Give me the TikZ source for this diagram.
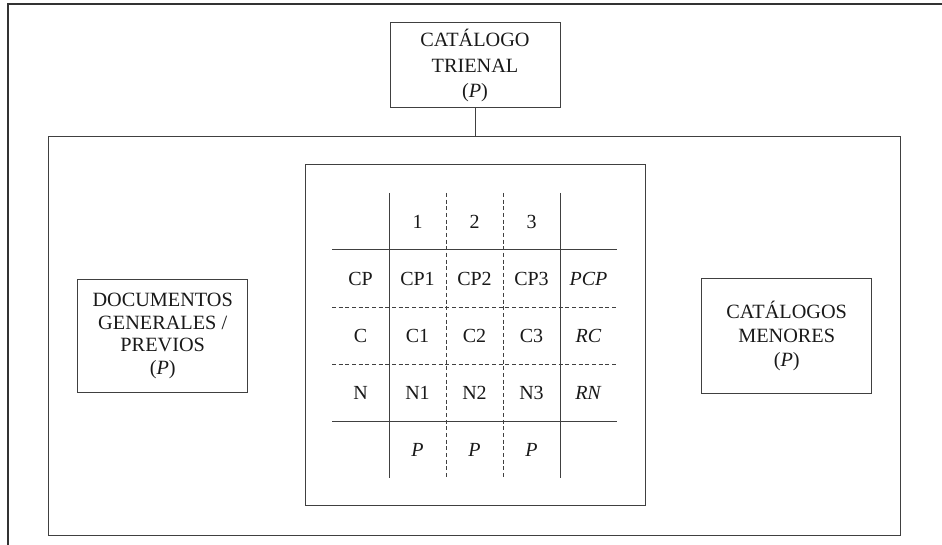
\documentclass[tikz,border=0pt]{standalone}
\usepackage{fontspec}
\setmainfont{Liberation Serif}
\begin{document}
\begin{tikzpicture}[x=0.75pt,y=-0.75pt,
  frame/.style={draw=black!80,line width=1.1pt},
  box/.style={draw=black!75,line width=0.75pt},
  tbox/.style={draw=black!75,line width=0.75pt,align=center,inner sep=0pt,text=black!90},
  cell/.style={font=\fontsize{15}{18}\selectfont,text=black!90,inner sep=0pt},
  solidl/.style={draw=black!75,line width=0.75pt},
  dashl/.style={draw=black!75,line width=0.7pt,dash pattern=on 3pt off 2pt}]
\useasboundingbox (0,0) rectangle (942,545);
% outer frame (top and left only)
\coordinate (ftl) at (8,4);
\coordinate (ftr) at (942,4);
\coordinate (fbl) at (8,545);
\draw[frame] (fbl) -- (ftl) -- (ftr);
% large box
\node[box,minimum width=852*0.75pt,minimum height=398*0.75pt,inner sep=0pt] (big) at (474,336) {};
% top box
\node[tbox,font=\fontsize{15.2}{19}\selectfont,minimum width=170*0.75pt,minimum height=85*0.75pt] (top) at (475,65.5)
  {CATÁLOGO\\TRIENAL\\(\textit{P})};
\draw[solidl] (top.south) -- (top.south |- big.north);
% left box
\node[tbox,font=\fontsize{15.2}{17}\selectfont,minimum width=170*0.75pt,minimum height=113*0.75pt] (left) at (162.7,336)
  {DOCUMENTOS\\GENERALES /\\PREVIOS\\(\textit{P})};
% right box
\node[tbox,font=\fontsize{15.2}{18}\selectfont,minimum width=170*0.75pt,minimum height=114*0.75pt] (right) at (786.7,336)
  {CATÁLOGOS\\MENORES\\(\textit{P})};
% middle box
\node[box,minimum width=340*0.75pt,minimum height=340*0.75pt,inner sep=0pt] (mid) at (475,335) {};
% table cells
\node[cell] (h1) at (417.5,221.5) {1};
\node[cell] (h2) at (474.5,221.5) {2};
\node[cell] (h3) at (531.5,221.5) {3};
\node[cell] (rcp) at (360.5,278.5) {CP};
\node[cell] (cp1) at (417.5,278.5) {CP1};
\node[cell] (cp2) at (474.5,278.5) {CP2};
\node[cell] (cp3) at (531.5,278.5) {CP3};
\node[cell] (pcp) at (588.5,278.5) {\textit{PCP}};
\node[cell] (rc) at (360.5,335.5) {C};
\node[cell] (c1) at (417.5,335.5) {C1};
\node[cell] (c2) at (474.5,335.5) {C2};
\node[cell] (c3) at (531.5,335.5) {C3};
\node[cell] (rcc) at (588.5,335.5) {\textit{RC}};
\node[cell] (rn) at (360.5,392.5) {N};
\node[cell] (n1) at (417.5,392.5) {N1};
\node[cell] (n2) at (474.5,392.5) {N2};
\node[cell] (n3) at (531.5,392.5) {N3};
\node[cell] (rnn) at (588.5,392.5) {\textit{RN}};
\node[cell] (p1) at (417.5,449.5) {\textit{P}};
\node[cell] (p2) at (474.5,449.5) {\textit{P}};
\node[cell] (p3) at (531.5,449.5) {\textit{P}};
% grid lines
\draw[solidl] (389,193) -- (389,478);
\draw[dashl] (446,193) -- (446,478);
\draw[dashl] (503,193) -- (503,478);
\draw[solidl] (560,193) -- (560,478);
\draw[solidl] (332,250) -- (617,250);
\draw[dashl] (332,307) -- (617,307);
\draw[dashl] (332,364) -- (617,364);
\draw[solidl] (332,421) -- (617,421);
\end{tikzpicture}
\end{document}
